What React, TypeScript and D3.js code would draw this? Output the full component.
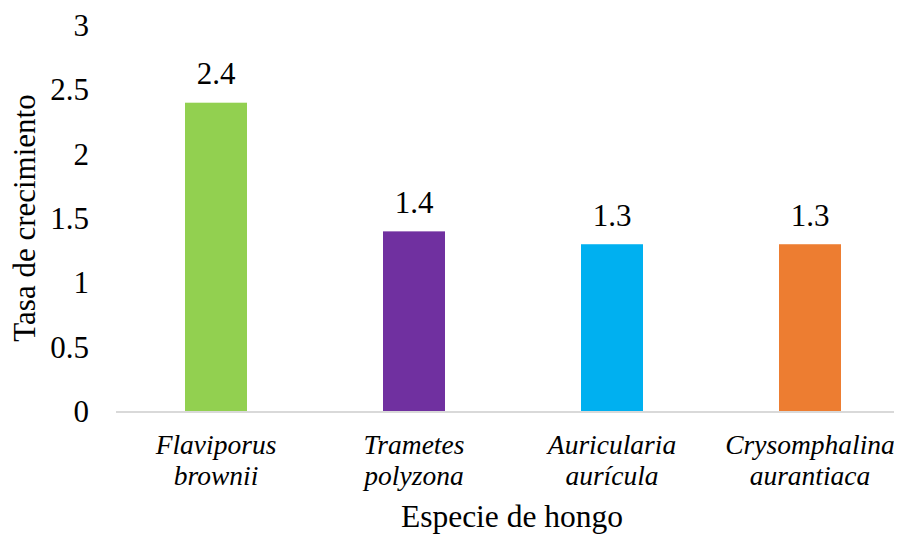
import React from "react";
import * as d3 from "d3";

const categories = [["Flaviporus", "brownii"], ["Trametes", "polyzona"], ["Auricularia", "aurícula"], ["Crysomphalina", "aurantiaca"]];
const values = [2.4, 1.4, 1.3, 1.3];
const colors = ["#92D050", "#7030A0", "#00B0F0", "#ED7D31"];
const yTicks = [0, 0.5, 1, 1.5, 2, 2.5, 3];

export default function App() {
  const W = 902, H = 536;
  const x = d3.scaleBand<number>().domain(d3.range(values.length)).range([117, 909]).paddingInner(0.6869).paddingOuter(0.34345);
  const y = d3.scaleLinear().domain([0, 3]).range([411.5, 25.5]);
  return (
    <svg width={W} height={H}>
      <g transform="translate(-8,-8)">
        {values.map((v, i) => (
          <rect key={i} x={x(i)} width={x.bandwidth()} y={y(v)} height={y(0) - y(v)} fill={colors[i]} />
        ))}
        <line x1={116} x2={902} y1={y(0) + 0.5} y2={y(0) + 0.5} stroke="#d9d9d9" strokeWidth={2} />
        {yTicks.map((t) => (
          <text key={t} x={89} y={y(t) + 10.5} textAnchor="end" fontSize={31} style={{ fontFamily: `"Liberation Serif"` }}>{t}</text>
        ))}
        {values.map((v, i) => (
          <text key={i} x={x(i)! + x.bandwidth() / 2} y={y(v) - 18.5} textAnchor="middle" fontSize={31} style={{ fontFamily: `"Liberation Serif"` }}>{v.toFixed(1)}</text>
        ))}
        {categories.map((c, i) => (
          <text key={i} textAnchor="middle" fontSize={27.5} fontStyle="italic" style={{ fontFamily: `"Liberation Serif"` }}>
            <tspan x={x(i)! + x.bandwidth() / 2} y={454}>{c[0]}</tspan>
            <tspan x={x(i)! + x.bandwidth() / 2} y={485}>{c[1]}</tspan>
          </text>
        ))}
        <text x={512} y={527} textAnchor="middle" fontSize={31.5} style={{ fontFamily: `"Liberation Serif"` }}>Especie de hongo</text>
        <text transform={`translate(35, 218) rotate(-90)`} textAnchor="middle" fontSize={31} style={{ fontFamily: `"Liberation Serif"` }}>Tasa de crecimiento</text>
      </g>
    </svg>
  );
}
